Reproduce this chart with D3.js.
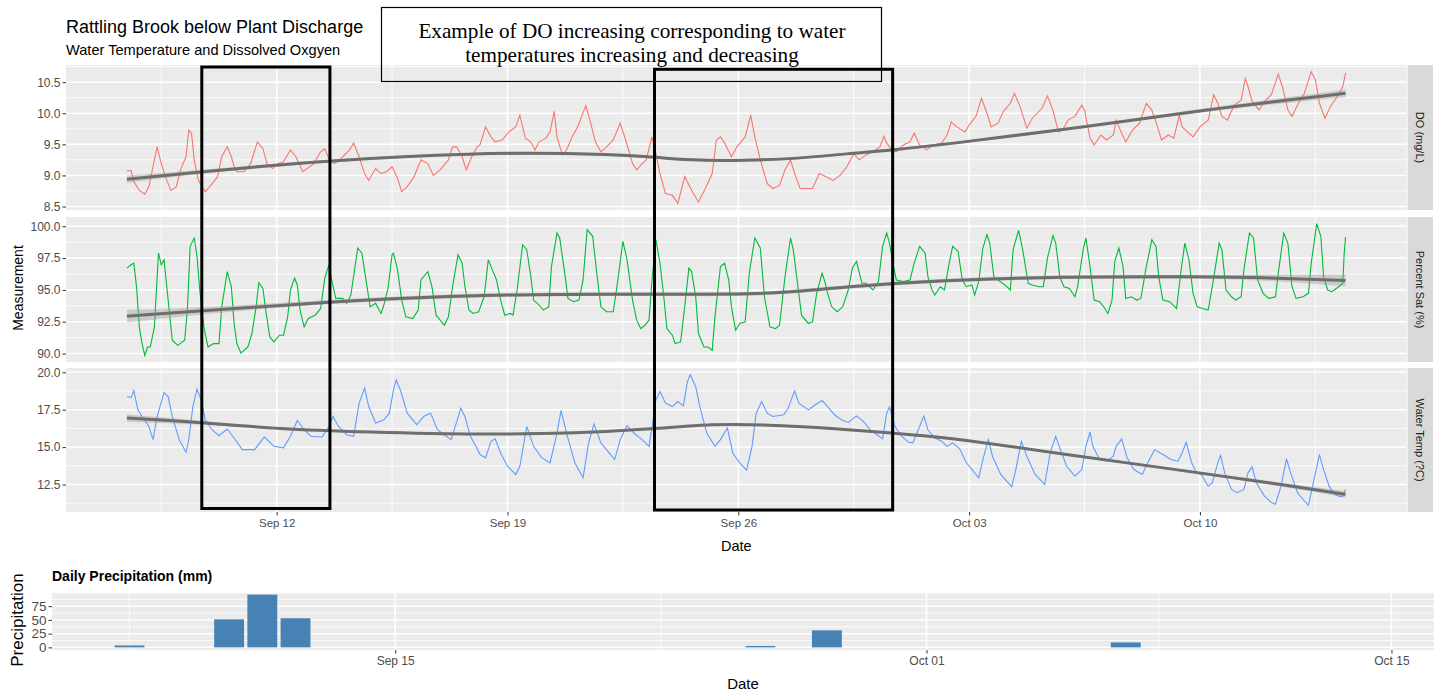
<!DOCTYPE html>
<html><head><meta charset="utf-8">
<script src="https://cdn.jsdelivr.net/npm/d3@7"></script>
<style>body{margin:0;background:#fff}svg{display:block}</style>
</head><body>
<svg id="chart" width="1439" height="693"></svg>
<script>
// ---------- DATA (hours since 2021-09-07 00:00 UTC, value) ----------
const doSeries = [[11,9.07],[14,9.08],[16,8.90],[20,8.76],[24,8.70],[27,8.82],[31,9.25],[33,9.46],[36,9.19],[39,8.98],[43,8.76],[47,8.82],[50,9.09],[54,9.30],[56,9.73],[58,9.68],[60,9.25],[63,8.92],[68,8.74],[72,8.84],[77,8.98],[80,9.30],[84,9.46],[87,9.30],[89,9.14],[91,9.06],[96,9.06],[101,9.19],[106,9.54],[110,9.43],[113,9.19],[117,9.11],[121,9.19],[125,9.22],[130,9.41],[134,9.30],[139,9.06],[142,9.11],[147,9.19],[152,9.38],[155,9.43],[158,9.27],[162,9.19],[166,9.25],[173,9.41],[176,9.52],[180,9.30],[184,9.03],[187,8.92],[192,9.11],[196,9.03],[200,9.06],[204,9.14],[208,8.95],[211,8.74],[215,8.82],[220,8.98],[225,9.25],[230,9.19],[234,9.00],[239,9.09],[245,9.25],[248,9.46],[251,9.46],[255,9.30],[258,9.09],[262,9.30],[266,9.46],[268,9.49],[272,9.78],[276,9.62],[279,9.54],[284,9.57],[289,9.70],[294,9.78],[297,9.97],[301,9.60],[305,9.54],[308,9.41],[311,9.54],[316,9.60],[319,9.70],[322,10.03],[324,9.62],[328,9.33],[331,9.41],[335,9.62],[339,9.78],[342,9.95],[345,10.12],[348,9.89],[352,9.54],[356,9.38],[360,9.46],[365,9.57],[370,9.84],[374,9.57],[379,9.19],[382,9.09],[386,9.19],[389,9.25],[393,9.62],[396,9.35],[399,9.03],[403,8.71],[408,8.68],[412,8.55],[417,8.98],[422,8.76],[427,8.57],[432,8.79],[437,9.03],[440,9.57],[443,9.62],[446,9.52],[451,9.30],[455,9.46],[461,9.62],[465,9.97],[468,9.62],[472,9.25],[477,8.87],[481,8.79],[486,8.84],[490,9.09],[494,9.25],[497,9.03],[501,8.79],[506,8.79],[510,8.79],[515,9.03],[520,8.98],[525,8.92],[530,9.00],[535,9.14],[540,9.35],[544,9.25],[549,9.33],[554,9.38],[559,9.46],[562,9.63],[564,9.52],[568,9.41],[571,9.38],[576,9.49],[581,9.54],[584,9.68],[588,9.49],[593,9.41],[598,9.49],[604,9.52],[608,9.65],[611,9.86],[615,9.78],[621,9.70],[624,9.81],[629,9.95],[633,10.24],[637,10.00],[640,9.78],[645,9.84],[649,10.03],[654,10.16],[657,10.32],[661,10.11],[666,9.76],[670,9.92],[677,10.08],[681,10.28],[685,10.05],[689,9.70],[692,9.73],[696,9.89],[701,9.95],[706,10.13],[708,10.05],[712,9.60],[715,9.49],[720,9.65],[724,9.57],[729,9.65],[731,9.89],[735,9.68],[738,9.54],[743,9.73],[748,9.84],[753,10.16],[757,10.05],[760,9.86],[764,9.57],[769,9.65],[773,9.60],[777,9.97],[779,9.78],[783,9.70],[787,9.62],[792,9.78],[798,9.89],[802,10.30],[805,10.16],[808,9.95],[812,9.89],[817,10.13],[822,10.21],[825,10.56],[827,10.43],[830,10.19],[835,10.05],[839,10.19],[844,10.30],[849,10.63],[852,10.43],[856,10.05],[859,9.95],[863,10.13],[868,10.32],[873,10.67],[876,10.54],[879,10.16],[883,9.92],[887,10.11],[892,10.27],[896,10.43],[898,10.65]];

const satSeries = [[11,96.71],[14,96.97],[16,97.10],[18,95.25],[20,92.09],[22,90.78],[24,89.85],[26,90.51],[28,90.51],[31,92.09],[33,96.04],[34,97.89],[36,96.97],[38,97.37],[41,94.20],[44,91.04],[48,90.64],[53,91.04],[55,93.41],[57,98.42],[60,99.08],[62,97.63],[64,94.99],[67,92.09],[70,90.51],[74,90.78],[78,90.78],[80,93.67],[84,96.44],[87,95.25],[89,92.36],[91,90.78],[94,90.03],[99,90.51],[102,91.57],[105,93.67],[107,95.57],[110,95.12],[112,93.41],[115,91.30],[118,90.91],[122,91.44],[125,91.44],[128,92.88],[130,94.99],[133,95.92],[135,95.39],[137,93.41],[140,92.09],[143,92.75],[148,93.01],[152,93.54],[155,95.92],[158,96.97],[160,95.78],[163,94.33],[168,94.33],[171,93.94],[174,94.60],[177,96.84],[179,98.29],[182,97.89],[185,95.78],[188,93.67],[192,93.94],[196,93.15],[198,93.81],[201,95.12],[204,97.76],[205,97.89],[208,96.57],[211,94.20],[214,92.88],[219,92.75],[223,93.41],[225,95.78],[230,96.44],[233,95.25],[236,93.01],[239,92.62],[242,92.22],[245,92.88],[248,95.25],[252,97.76],[255,97.10],[257,95.25],[260,93.41],[263,93.15],[267,93.28],[271,94.46],[274,97.37],[277,96.57],[280,95.78],[283,94.20],[286,93.01],[290,93.15],[292,93.01],[295,94.99],[299,98.55],[302,98.16],[305,96.04],[307,94.20],[311,93.81],[314,93.41],[318,93.67],[320,96.84],[324,99.47],[326,99.08],[330,96.04],[332,94.33],[336,94.07],[340,94.20],[343,95.78],[346,99.74],[350,99.21],[353,96.31],[356,93.67],[360,93.28],[365,93.28],[368,95.52],[372,98.82],[375,97.37],[379,94.20],[382,92.62],[385,91.96],[388,92.22],[391,92.62],[393,95.52],[396,98.95],[399,97.10],[402,94.20],[404,91.96],[408,91.44],[410,90.78],[414,90.91],[417,93.67],[420,96.71],[422,96.44],[425,94.46],[427,91.57],[431,90.51],[434,90.51],[437,90.25],[439,92.88],[443,96.84],[446,97.10],[449,95.78],[451,93.67],[454,91.83],[457,92.36],[461,92.49],[464,96.31],[468,99.08],[472,98.29],[475,94.46],[479,92.09],[483,91.96],[486,92.22],[490,96.04],[494,99.08],[496,98.16],[500,94.73],[502,93.01],[507,92.36],[510,92.49],[513,94.73],[517,96.31],[519,95.65],[521,94.73],[524,93.67],[528,93.28],[532,93.67],[536,94.99],[539,96.71],[542,97.23],[546,95.52],[549,95.52],[554,94.99],[558,95.65],[561,98.42],[564,99.47],[566,98.68],[569,96.84],[571,95.78],[576,95.65],[581,95.78],[584,97.10],[588,98.42],[592,97.89],[594,96.04],[597,94.99],[599,94.60],[603,95.25],[606,94.99],[610,97.37],[612,98.42],[616,98.02],[619,95.78],[622,95.25],[626,95.39],[628,94.60],[631,95.65],[634,98.29],[637,99.34],[639,98.68],[642,96.04],[645,95.78],[650,95.39],[654,94.99],[656,98.16],[660,99.68],[663,98.16],[667,95.52],[670,95.39],[675,95.25],[678,95.25],[681,97.50],[685,99.26],[687,98.68],[690,96.04],[693,95.25],[697,95.12],[701,94.46],[703,95.25],[707,98.16],[709,99.08],[712,96.84],[715,94.20],[719,94.07],[722,93.67],[725,93.15],[728,94.20],[730,97.23],[733,98.29],[736,96.84],[738,94.33],[742,94.46],[746,94.20],[749,94.33],[753,96.84],[757,98.95],[760,98.42],[762,96.04],[765,94.20],[770,94.07],[775,93.54],[778,96.31],[781,98.68],[784,97.37],[787,94.73],[790,93.67],[794,93.54],[798,93.41],[801,95.25],[806,98.68],[808,98.16],[811,94.99],[815,94.46],[818,94.20],[822,94.46],[824,96.57],[828,99.47],[831,99.08],[834,95.78],[838,94.73],[842,94.33],[847,94.46],[849,96.31],[853,99.47],[856,98.68],[859,95.25],[862,94.33],[867,94.46],[871,94.73],[873,97.10],[877,100.21],[880,99.21],[882,96.04],[885,94.99],[888,94.86],[893,95.25],[896,95.52],[897,97.89],[898,99.16]];

const tempSeries = [[11,18.38],[14,18.31],[16,18.78],[19,17.49],[22,17.05],[27,16.38],[30,15.50],[33,17.05],[38,18.64],[41,18.38],[44,17.05],[49,15.50],[54,14.66],[56,15.50],[59,17.71],[62,18.87],[65,18.16],[68,16.83],[73,16.16],[78,15.76],[84,16.21],[89,15.61],[95,14.83],[104,14.83],[111,15.68],[118,15.05],[125,14.95],[130,15.72],[135,16.78],[140,16.16],[145,15.72],[153,15.68],[158,16.38],[161,17.05],[165,16.38],[171,15.83],[176,15.72],[180,17.94],[184,18.94],[187,17.71],[192,16.61],[198,16.83],[202,17.27],[205,18.82],[207,19.49],[210,18.82],[215,17.27],[222,16.50],[227,17.05],[232,17.27],[237,16.16],[242,15.83],[247,15.50],[250,16.38],[254,17.60],[257,17.05],[261,15.72],[265,15.05],[268,14.50],[272,14.28],[276,15.39],[279,15.55],[283,14.61],[288,13.72],[294,13.17],[297,13.72],[302,16.38],[307,15.05],[313,14.28],[319,13.95],[324,15.94],[327,17.45],[331,15.94],[337,13.95],[343,12.95],[347,15.28],[351,16.54],[356,15.28],[362,14.61],[366,14.17],[370,15.50],[375,16.43],[380,15.94],[386,15.50],[391,15.05],[394,16.83],[396,18.16],[399,18.71],[403,17.94],[408,17.71],[412,18.05],[416,17.76],[419,19.38],[421,19.85],[425,19.04],[428,17.71],[433,15.94],[439,15.05],[443,15.50],[448,16.28],[452,14.61],[457,13.95],[462,13.46],[466,15.05],[469,17.27],[473,18.05],[477,17.27],[481,17.05],[489,17.16],[492,17.54],[497,18.76],[500,17.94],[507,17.49],[512,17.83],[517,18.11],[521,17.71],[526,17.16],[531,16.83],[536,16.65],[542,17.09],[547,16.72],[552,16.16],[557,15.83],[561,15.55],[564,17.27],[566,17.67],[570,16.38],[575,15.72],[580,15.32],[583,15.28],[588,16.38],[591,17.09],[594,16.16],[599,15.61],[604,15.39],[608,15.05],[612,15.28],[617,14.90],[622,13.95],[627,13.39],[631,12.95],[634,14.17],[638,15.50],[641,14.39],[647,13.17],[655,12.35],[658,13.50],[662,15.39],[666,14.39],[672,13.17],[679,12.51],[683,14.61],[687,15.72],[690,14.95],[695,13.72],[701,13.06],[706,13.50],[709,15.05],[712,16.01],[714,15.05],[719,14.17],[724,14.06],[729,14.39],[731,15.05],[735,15.55],[739,14.28],[744,13.50],[750,13.17],[754,13.95],[759,14.83],[765,14.50],[771,14.17],[776,14.06],[779,14.61],[782,15.32],[786,13.95],[789,13.39],[793,13.17],[798,12.39],[801,12.62],[805,13.95],[807,14.44],[810,13.28],[815,12.17],[819,11.95],[824,12.17],[827,13.28],[830,13.68],[833,12.62],[839,11.73],[844,11.29],[847,11.18],[851,12.39],[855,14.22],[858,13.28],[863,11.95],[868,11.40],[871,11.10],[874,12.39],[879,14.50],[882,13.50],[886,12.39],[890,11.84],[894,11.69],[896,11.73],[898,12.17]];

// smoother fits: [hour, fit, half-width of confidence band]
const doSmooth = [[11,8.94,0.06],[65,9.06,0.03],[162,9.25,0.02],[266,9.36,0.02],[331,9.36,0.02],[389,9.31,0.02],[420,9.24,0.02],[462,9.24,0.02],[499,9.27,0.02],[535,9.35,0.02],[571,9.41,0.02],[617,9.53,0.02],[709,9.78,0.02],[792,10.05,0.025],[898,10.32,0.06]];
const satSmooth = [[11,92.93,0.5],[65,93.36,0.25],[158,94.07,0.15],[268,94.65,0.15],[389,94.68,0.15],[470,94.62,0.15],[510,94.99,0.15],[569,95.52,0.15],[617,95.78,0.15],[690,96.04,0.15],[787,96.04,0.15],[835,95.99,0.2],[898,95.73,0.45]];
const tempSmooth = [[11,16.94,0.25],[65,16.65,0.12],[121,16.21,0.07],[186,16.01,0.07],[268,15.83,0.07],[341,15.94,0.07],[394,16.21,0.07],[438,16.56,0.07],[474,16.50,0.07],[510,16.34,0.07],[542,16.12,0.07],[583,15.83,0.07],[617,15.55,0.07],[690,14.56,0.07],[792,13.28,0.08],[859,12.39,0.12],[898,11.84,0.22]];

const facetLabels = ["DO (mg/L)", "Percent Sat (%)", "Water Temp (?C)"];
const doTicks = [8.5, 9.0, 9.5, 10.0, 10.5];
const satTicks = [90, 92.5, 95, 97.5, 100];
const tempTicks = [12.5, 15, 17.5, 20];

const precipDates = ["2021-09-07", "2021-09-10", "2021-09-11", "2021-09-12", "2021-09-26", "2021-09-28", "2021-10-07"];
const precipValues = [3.5, 51, 96, 53, 2.5, 31, 9];
const precipTicks = [0, 25, 50, 75];
const precipDateTicks = ["2021-09-15", "2021-10-01", "2021-10-15"];
const precipRange = ["2021-09-04T16:00", "2021-10-16T06:45"];

const highlightRanges = [["2021-09-09T17:30", "2021-09-13T14:45"], ["2021-09-23T11:00", "2021-09-30T16:20"]];
const titleText = "Rattling Brook below Plant Discharge";
const subtitleText = "Water Temperature and Dissolved Oxgyen";
const noteLines = ["Example of DO increasing corresponding to water", "temperatures increasing and decreasing"];

// ---------- DRAWING ----------
const SANS = "'Liberation Sans', Arial, sans-serif";
const SERIF = "'Liberation Serif', 'Times New Roman', serif";
const svg = d3.select("#chart");
const base = Date.UTC(2021, 8, 7);
const hourToDate = h => new Date(base + h * 3600000);
const parseT = d3.utcParse("%Y-%m-%dT%H:%M");
const parseD = d3.utcParse("%Y-%m-%d");
const DAY = 86400000;

const allHours = [...doSeries, ...satSeries, ...tempSeries].map(d => d[0]);
const [h0, h1] = d3.extent(allHours);
const hp = (h1 - h0) * 0.05;
const PX0 = 66, PX1 = 1406.5;
const x = d3.scaleUtc().domain([hourToDate(h0 - hp), hourToDate(h1 + hp)]).range([PX0, PX1]);
const majorX = d3.utcSunday.range(x.domain()[0], x.domain()[1]);
const minorX = majorX.map(d => new Date(+d - 3.5 * DAY)).concat([new Date(+majorX[majorX.length - 1] + 3.5 * DAY)])
  .filter(d => d >= x.domain()[0] && d <= x.domain()[1]);

function expand(vals) { const e = d3.extent(vals); const p = (e[1] - e[0]) * 0.05; return [e[0] - p, e[1] + p]; }

const panels = [
  { series: doSeries, smooth: doSmooth, color: "#F8766D", top: 65, bottom: 210, ticks: doTicks, label: facetLabels[0] },
  { series: satSeries, smooth: satSmooth, color: "#00BA38", top: 217, bottom: 362, ticks: satTicks, label: facetLabels[1] },
  { series: tempSeries, smooth: tempSmooth, color: "#619CFF", top: 368, bottom: 512, ticks: tempTicks, label: facetLabels[2] }
];

panels.forEach((p, i) => {
  const y = d3.scaleLinear().domain(expand(p.series.map(d => d[1]))).range([p.bottom, p.top]);
  const g = svg.append("g");
  g.append("rect").attr("x", PX0).attr("y", p.top).attr("width", PX1 - PX0).attr("height", p.bottom - p.top).attr("fill", "#EBEBEB");
  const step = p.ticks[1] - p.ticks[0];
  const minorY = p.ticks.map(t => t - step / 2).concat([p.ticks[p.ticks.length - 1] + step / 2])
    .filter(v => v >= y.domain()[0] && v <= y.domain()[1]);
  g.selectAll(null).data(minorY).join("line").attr("x1", PX0).attr("x2", PX1)
    .attr("y1", d => y(d)).attr("y2", d => y(d)).attr("stroke", "#fff").attr("stroke-width", 0.8);
  g.selectAll(null).data(minorX).join("line").attr("y1", p.top).attr("y2", p.bottom)
    .attr("x1", d => x(d)).attr("x2", d => x(d)).attr("stroke", "#fff").attr("stroke-width", 0.8);
  g.selectAll(null).data(p.ticks).join("line").attr("x1", PX0).attr("x2", PX1)
    .attr("y1", d => y(d)).attr("y2", d => y(d)).attr("stroke", "#fff").attr("stroke-width", 1.5);
  g.selectAll(null).data(majorX).join("line").attr("y1", p.top).attr("y2", p.bottom)
    .attr("x1", d => x(d)).attr("x2", d => x(d)).attr("stroke", "#fff").attr("stroke-width", 1.5);

  const clipId = "clip" + i;
  svg.append("clipPath").attr("id", clipId).append("rect").attr("x", PX0).attr("y", p.top).attr("width", PX1 - PX0).attr("height", p.bottom - p.top);
  const c = g.append("g").attr("clip-path", `url(#${clipId})`);
  c.append("path").datum(p.series)
    .attr("d", d3.line().x(d => x(hourToDate(d[0]))).y(d => y(d[1])))
    .attr("fill", "none").attr("stroke", p.color).attr("stroke-width", 1.1);
  c.append("path").datum(p.smooth)
    .attr("d", d3.area().curve(d3.curveBasis).x(d => x(hourToDate(d[0]))).y0(d => y(d[1] - d[2])).y1(d => y(d[1] + d[2])))
    .attr("fill", "#999999").attr("opacity", 0.4);
  c.append("path").datum(p.smooth)
    .attr("d", d3.line().curve(d3.curveBasis).x(d => x(hourToDate(d[0]))).y(d => y(d[1])))
    .attr("fill", "none").attr("stroke", "#6e6e6e").attr("stroke-width", 3);

  const ax = g.append("g").attr("transform", `translate(${PX0},0)`)
    .call(d3.axisLeft(y).tickValues(p.ticks).tickFormat(d3.format(".1f")).tickSize(3.5).tickPadding(2));
  ax.select(".domain").remove();
  ax.selectAll("line").attr("stroke", "#333");
  ax.selectAll("text").attr("fill", "#4D4D4D").style("font-family", SANS).style("font-size", "12px");

  g.append("rect").attr("x", PX1 + 1).attr("y", p.top).attr("width", 25.5).attr("height", p.bottom - p.top).attr("fill", "#D9D9D9");
  g.append("text").attr("transform", `translate(${PX1 + 1 + 12.75},${(p.top + p.bottom) / 2}) rotate(90)`)
    .attr("text-anchor", "middle").attr("dy", "0.35em").attr("fill", "#1A1A1A")
    .style("font-family", SANS).style("font-size", "11px").text(p.label);
});

const xa = svg.append("g").attr("transform", `translate(0,512)`)
  .call(d3.axisBottom(x).tickValues(majorX).tickFormat(d3.utcFormat("%b %d")).tickSize(3.5).tickPadding(3));
xa.select(".domain").remove();
xa.selectAll("line").attr("stroke", "#333");
xa.selectAll("text").attr("fill", "#4D4D4D").style("font-family", SANS).style("font-size", "11.5px");

svg.append("text").attr("x", (PX0 + PX1) / 2).attr("y", 551).attr("text-anchor", "middle")
  .style("font-family", SANS).style("font-size", "14.5px").text("Date");
svg.append("text").attr("transform", `translate(23,288) rotate(-90)`).attr("text-anchor", "middle")
  .style("font-family", SANS).style("font-size", "14px").text("Measurement");
svg.append("text").attr("x", PX0).attr("y", 32.5).style("font-family", SANS).style("font-size", "18px").text(titleText);
svg.append("text").attr("x", PX0).attr("y", 55).style("font-family", SANS).style("font-size", "14.6px").text(subtitleText);

// annotation box (transparent)
svg.append("rect").attr("x", 381.5).attr("y", 7.5).attr("width", 500).attr("height", 74)
  .attr("fill", "none").attr("stroke", "#000").attr("stroke-width", 1.2);
noteLines.forEach((t, i) => svg.append("text").attr("x", 632).attr("y", 37.5 + i * 24).attr("text-anchor", "middle")
  .style("font-family", SERIF).style("font-size", "21.2px").text(t));

// highlight boxes
highlightRanges.forEach((r, i) => {
  const xa0 = x(parseT(r[0])), xa1 = x(parseT(r[1]));
  const yt = i === 0 ? 67 : 69.3, yb = i === 0 ? 508.5 : 510;
  svg.append("rect").attr("x", xa0).attr("y", yt).attr("width", xa1 - xa0).attr("height", yb - yt)
    .attr("fill", "none").attr("stroke", "#000").attr("stroke-width", 3);
});

// ---------- bottom precipitation plot ----------
const BX0 = 52, BX1 = 1434, BY0 = 592, BY1 = 650;
const xb = d3.scaleUtc().domain(precipRange.map(parseT)).range([BX0, BX1]);
const pmax = d3.max(precipValues);
const yb = d3.scaleLinear().domain([-0.05 * pmax, 1.05 * pmax]).range([BY1, BY0]);
const gb = svg.append("g");
gb.append("rect").attr("x", BX0).attr("y", BY0).attr("width", BX1 - BX0).attr("height", BY1 - BY0).attr("fill", "#EBEBEB");
const pstep = precipTicks[1] - precipTicks[0];
const pMajor = d3.range(0, yb.domain()[1], pstep);
const pMinor = pMajor.map(v => v + pstep / 2).filter(v => v <= yb.domain()[1]);
gb.selectAll(null).data(pMinor).join("line").attr("x1", BX0).attr("x2", BX1).attr("y1", d => yb(d)).attr("y2", d => yb(d)).attr("stroke", "#fff").attr("stroke-width", 0.8);
gb.selectAll(null).data(pMajor).join("line").attr("x1", BX0).attr("x2", BX1).attr("y1", d => yb(d)).attr("y2", d => yb(d)).attr("stroke", "#fff").attr("stroke-width", 1.5);
const bMajor = precipDateTicks.map(parseD);
const bMinor = [new Date(+bMajor[0] - (bMajor[1] - bMajor[0]) / 2)].concat(bMajor.slice(1).map((d, i) => new Date((+d + +bMajor[i]) / 2)));
gb.selectAll(null).data(bMinor).join("line").attr("y1", BY0).attr("y2", BY1).attr("x1", d => xb(d)).attr("x2", d => xb(d)).attr("stroke", "#fff").attr("stroke-width", 0.8);
gb.selectAll(null).data(bMajor).join("line").attr("y1", BY0).attr("y2", BY1).attr("x1", d => xb(d)).attr("x2", d => xb(d)).attr("stroke", "#fff").attr("stroke-width", 1.5);
gb.selectAll(null).data(precipDates.map((d, i) => ({ d: parseD(d), v: precipValues[i] }))).join("rect")
  .attr("x", d => xb(new Date(+d.d - 0.45 * DAY)))
  .attr("width", d => xb(new Date(+d.d + 0.45 * DAY)) - xb(new Date(+d.d - 0.45 * DAY)))
  .attr("y", d => yb(d.v)).attr("height", d => yb(0) - yb(d.v)).attr("fill", "#4682B4");
const bya = gb.append("g").attr("transform", `translate(${BX0},0)`)
  .call(d3.axisLeft(yb).tickValues(precipTicks).tickSize(3.5).tickPadding(2));
bya.select(".domain").remove();
bya.selectAll("line").attr("stroke", "#333");
bya.selectAll("text").attr("fill", "#4D4D4D").style("font-family", SANS).style("font-size", "13.5px");
const bxa = gb.append("g").attr("transform", `translate(0,${BY1})`)
  .call(d3.axisBottom(xb).tickValues(bMajor).tickFormat(d3.utcFormat("%b %d")).tickSize(3.5).tickPadding(3));
bxa.select(".domain").remove();
bxa.selectAll("line").attr("stroke", "#333");
bxa.selectAll("text").attr("fill", "#4D4D4D").style("font-family", SANS).style("font-size", "12px");
svg.append("text").attr("x", BX0).attr("y", 581).style("font-family", SANS).style("font-size", "14px").style("font-weight", "bold").text("Daily Precipitation (mm)");
svg.append("text").attr("x", (BX0 + BX1) / 2).attr("y", 689).attr("text-anchor", "middle").style("font-family", SANS).style("font-size", "15px").text("Date");
svg.append("text").attr("transform", `translate(23,620) rotate(-90)`).attr("text-anchor", "middle").style("font-family", SANS).style("font-size", "17px").text("Precipitation");
</script>
</body></html>
